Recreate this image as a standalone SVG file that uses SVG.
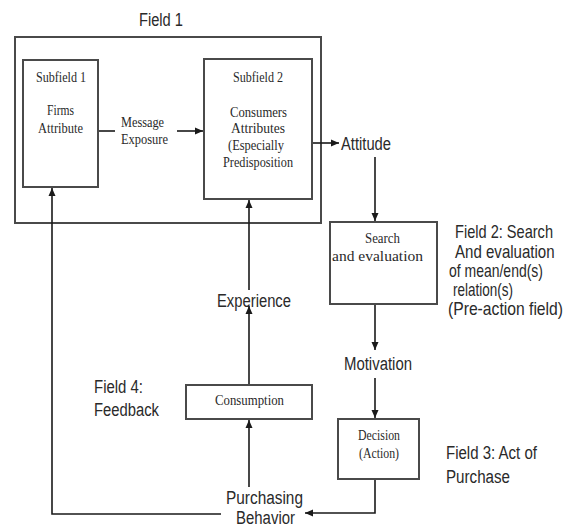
<svg xmlns="http://www.w3.org/2000/svg" width="568" height="529" viewBox="0 0 568 529">
<style>
.box{fill:#fff;stroke:#4a4a4a;stroke-width:2}
.frame{fill:none;stroke:#4a4a4a;stroke-width:2}
.ser{font-family:"Liberation Serif","Times New Roman",serif;font-size:15px;fill:#2a2a2a}
.san{font-family:"Liberation Sans",Arial,sans-serif;font-size:18px;fill:#2a2a2a}
.con{fill:none;stroke:#1a1a1a;stroke-width:1.6}
</style>
<defs>
<marker id="ah" markerUnits="userSpaceOnUse" markerWidth="9" markerHeight="8" refX="8" refY="4" orient="auto">
<path d="M0,0.5 L8,4 L0,7.5 z" fill="#1a1a1a"/>
</marker>
</defs>
<rect width="568" height="529" fill="#fff"/>
<g id="field1">
<rect class="frame" x="15" y="37" width="306" height="186"/>
<text class="san" x="139" y="26" textLength="44" lengthAdjust="spacingAndGlyphs">Field 1</text>
</g>
<g id="subfield1">
<rect class="box" x="23" y="60" width="75" height="127"/>
<text class="ser" x="36" y="82" textLength="50" lengthAdjust="spacingAndGlyphs">Subfield 1</text>
<text class="ser" x="47" y="115" textLength="27" lengthAdjust="spacingAndGlyphs">Firms</text>
<text class="ser" x="38" y="133" textLength="45" lengthAdjust="spacingAndGlyphs">Attribute</text>
</g>
<g id="message">
<text class="ser" x="121" y="127" textLength="43" lengthAdjust="spacingAndGlyphs">Message</text>
<text class="ser" x="121" y="144" textLength="47" lengthAdjust="spacingAndGlyphs">Exposure</text>
</g>
<g id="subfield2">
<rect class="box" x="204" y="59" width="108" height="140"/>
<text class="ser" x="233" y="82" textLength="50" lengthAdjust="spacingAndGlyphs">Subfield 2</text>
<text class="ser" x="230" y="117" textLength="57" lengthAdjust="spacingAndGlyphs">Consumers</text>
<text class="ser" x="231" y="133" textLength="54" lengthAdjust="spacingAndGlyphs">Attributes</text>
<text class="ser" x="228" y="150" textLength="56" lengthAdjust="spacingAndGlyphs">(Especially</text>
<text class="ser" x="223" y="167" textLength="70" lengthAdjust="spacingAndGlyphs">Predisposition</text>
</g>
<g id="attitude">
<text class="san" x="341" y="150" textLength="50" lengthAdjust="spacingAndGlyphs">Attitude</text>
</g>
<g id="search">
<rect class="box" x="330" y="222" width="107" height="82"/>
<text class="ser" x="365" y="243" textLength="35" lengthAdjust="spacingAndGlyphs">Search</text>
<text class="ser" x="332" y="261" textLength="91" lengthAdjust="spacingAndGlyphs">and evaluation</text>
</g>
<g id="field2">
<text class="san" transform="translate(455 238) scale(0.81 1)" x="0" y="0" textLength="121" lengthAdjust="spacingAndGlyphs">Field 2: Search</text>
<text class="san" transform="translate(455 258) scale(0.81 1)" x="0" y="0" textLength="123" lengthAdjust="spacingAndGlyphs">And evaluation</text>
<text class="san" transform="translate(449 277) scale(0.81 1)" x="0" y="0" textLength="116" lengthAdjust="spacingAndGlyphs">of mean/end(s)</text>
<text class="san" transform="translate(453 296) scale(0.81 1)" x="0" y="0" textLength="74" lengthAdjust="spacingAndGlyphs">relation(s)</text>
<text class="san" transform="translate(448 315) scale(0.81 1)" x="0" y="0" textLength="142" lengthAdjust="spacingAndGlyphs">(Pre-action field)</text>
</g>
<g id="motivation">
<text class="san" x="344" y="370" textLength="68" lengthAdjust="spacingAndGlyphs">Motivation</text>
</g>
<g id="decision">
<rect class="box" x="338" y="419" width="81" height="60"/>
<text class="ser" x="358" y="440" textLength="42" lengthAdjust="spacingAndGlyphs">Decision</text>
<text class="ser" x="359" y="458" textLength="40" lengthAdjust="spacingAndGlyphs">(Action)</text>
</g>
<g id="field3">
<text class="san" x="446" y="459" textLength="91" lengthAdjust="spacingAndGlyphs">Field 3: Act of</text>
<text class="san" x="446" y="483" textLength="64" lengthAdjust="spacingAndGlyphs">Purchase</text>
</g>
<g id="purchasing">
<text class="san" x="226" y="504" textLength="77" lengthAdjust="spacingAndGlyphs">Purchasing</text>
<text class="san" x="236" y="524" textLength="59" lengthAdjust="spacingAndGlyphs">Behavior</text>
</g>
<g id="consumption">
<rect class="box" x="186" y="385" width="126" height="34"/>
<text class="ser" x="215" y="405" textLength="69" lengthAdjust="spacingAndGlyphs">Consumption</text>
</g>
<g id="experience">
<text class="san" x="217" y="307" textLength="74" lengthAdjust="spacingAndGlyphs">Experience</text>
</g>
<g id="field4">
<text class="san" x="94" y="393" textLength="49" lengthAdjust="spacingAndGlyphs">Field 4:</text>
<text class="san" x="94" y="416" textLength="65" lengthAdjust="spacingAndGlyphs">Feedback</text>
</g>
<g id="connectors">
<line class="con" x1="99" y1="131" x2="115" y2="131"/>
<line class="con" x1="177" y1="131" x2="203" y2="131" marker-end="url(#ah)"/>
<line class="con" x1="313" y1="143" x2="339" y2="143" marker-end="url(#ah)"/>
<line class="con" x1="375" y1="157" x2="375" y2="221" marker-end="url(#ah)"/>
<line class="con" x1="375" y1="305" x2="375" y2="350" marker-end="url(#ah)"/>
<line class="con" x1="375" y1="378" x2="375" y2="418" marker-end="url(#ah)"/>
<path class="con" d="M375,480 V513 H305" marker-end="url(#ah)"/>
<line class="con" x1="249" y1="487" x2="249" y2="420" marker-end="url(#ah)"/>
<line class="con" x1="249" y1="384" x2="249" y2="306" marker-end="url(#ah)"/>
<line class="con" x1="249" y1="290" x2="249" y2="200" marker-end="url(#ah)"/>
<path class="con" d="M221,514 H52 V188" marker-end="url(#ah)"/>
</g>
</svg>
